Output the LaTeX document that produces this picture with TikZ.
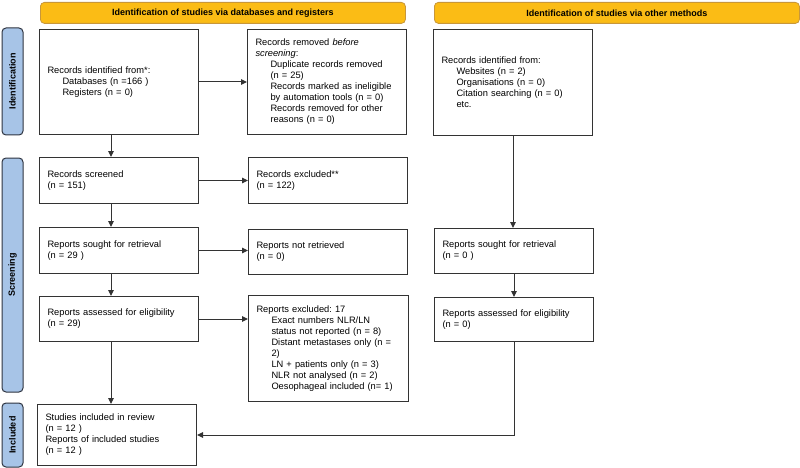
\documentclass[tikz,border=0pt]{standalone}
\usepackage{fontspec}
\setmainfont{Liberation Sans}
\usetikzlibrary{positioning,arrows.meta}
\definecolor{headfill}{HTML}{FBBC15}
\definecolor{headedge}{HTML}{C8973A}
\definecolor{sidefill}{HTML}{A7C4E7}
\definecolor{sideedge}{HTML}{2E3440}
\definecolor{lineclr}{HTML}{333333}
\newcommand{\indt}{\hspace*{15pt}}
\frenchspacing
\tikzset{
	box/.style={draw=lineclr, line width=1pt, fill=white, anchor=north west, align=left,
		inner xsep=8pt, text width=143pt, font=\fontsize{9.3}{11}\selectfont},
	head/.style={draw=headedge, line width=0.8pt, fill=headfill, rounded corners=4pt, anchor=north west,
		minimum width=365pt, minimum height=21pt, font=\fontsize{9}{11}\selectfont\bfseries},
	side/.style={draw=sideedge, line width=1pt, fill=sidefill, rounded corners=4pt, rotate=90,
		minimum height=21pt, font=\fontsize{9}{11}\selectfont\bfseries},
	arr/.style={draw=lineclr, line width=1pt, -{Triangle[length=6pt,width=5.5pt]}}
}
\begin{document}
\begin{tikzpicture}[x=1pt,y=-1pt]
	\useasboundingbox (0,0) rectangle (800,468);
	\node[head] (headdb) at (40,2) {Identification of studies via databases and registers};
	\node[head] (headoth) at (434,2) {Identification of studies via other methods};
	\node[side, minimum width=107pt] (sideid) at (12.5,81.5) {Identification};
	\node[side, minimum width=234pt] (sidescr) at (12.5,275) {Screening};
	\node[side, minimum width=64pt] (sideinc) at (12.5,435) {Included};

	\node[box, minimum height=105pt] (dbid) at (39,29) {Records identified from*:\\\indt Databases (n =166 )\\\indt Registers (n = 0)};
	\node[box, minimum height=105pt] (removed) at (247,29) {Records removed \textit{before}\\\textit{screening}:\\\indt Duplicate records removed\\\indt (n = 25)\\\indt Records marked as ineligible\\\indt by automation tools (n = 0)\\\indt Records removed for other\\\indt reasons (n = 0)};
	\node[box, minimum height=106pt] (othid) at (433,29) {Records identified from:\\\indt Websites (n = 2)\\\indt Organisations (n = 0)\\\indt Citation searching (n = 0)\\\indt etc.};
	\node[box, minimum height=46pt] (screened) at (39,157) {Records screened\\(n = 151)};
	\node[box, minimum height=46pt] (excluded) at (248,157) {Records excluded**\\(n = 122)};
	\node[box, minimum height=46pt] (sought) at (39,227) {Reports sought for retrieval\\(n = 29 )};
	\node[box, minimum height=45pt] (notret) at (248,229) {Reports not retrieved\\(n = 0)};
	\node[box, minimum height=45pt] (assessed) at (39,296) {Reports assessed for eligibility\\(n = 29)};
	\node[box, minimum height=106pt, text width=144pt] (repexcl) at (248,295) {Reports excluded: 17\\\indt Exact numbers NLR/LN\\\indt status not reported (n = 8)\\\indt Distant metastases only (n =\\\indt 2)\\\indt LN + patients only (n = 3)\\\indt NLR not analysed (n = 2)\\\indt Oesophageal included (n= 1)};
	\node[box, minimum height=61pt] (included) at (37,404) {Studies included in review\\(n = 12 )\\Reports of included studies\\(n = 12 )};
	\node[box, minimum height=45pt] (othsought) at (434,228) {Reports sought for retrieval\\(n = 0 )};
	\node[box, minimum height=44pt] (othassessed) at (434,297) {Reports assessed for eligibility\\(n = 0)};

	\draw[arr] (dbid) -- (removed);
	\draw[arr] (screened) -- (excluded);
	\draw[arr] (sought.east) -- (sought.east -| notret.west);
	\draw[arr] (assessed.east) -- (assessed.east -| repexcl.west);
	\draw[arr] ([xshift=-8pt]dbid.south) -- ([xshift=-8pt]screened.north);
	\draw[arr] ([xshift=-8pt]screened.south) -- ([xshift=-8pt]sought.north);
	\draw[arr] ([xshift=-8pt]sought.south) -- ([xshift=-8pt]assessed.north);
	\draw[arr] ([xshift=-8pt]assessed.south) -- ([xshift=-8pt]assessed.south |- included.north);
	\draw[arr] (othid.south) -- (othid.south |- othsought.north);
	\draw[arr] (othsought) -- (othassessed);
	\draw[arr] (othassessed.south) |- (included.east);
\end{tikzpicture}
\end{document}
